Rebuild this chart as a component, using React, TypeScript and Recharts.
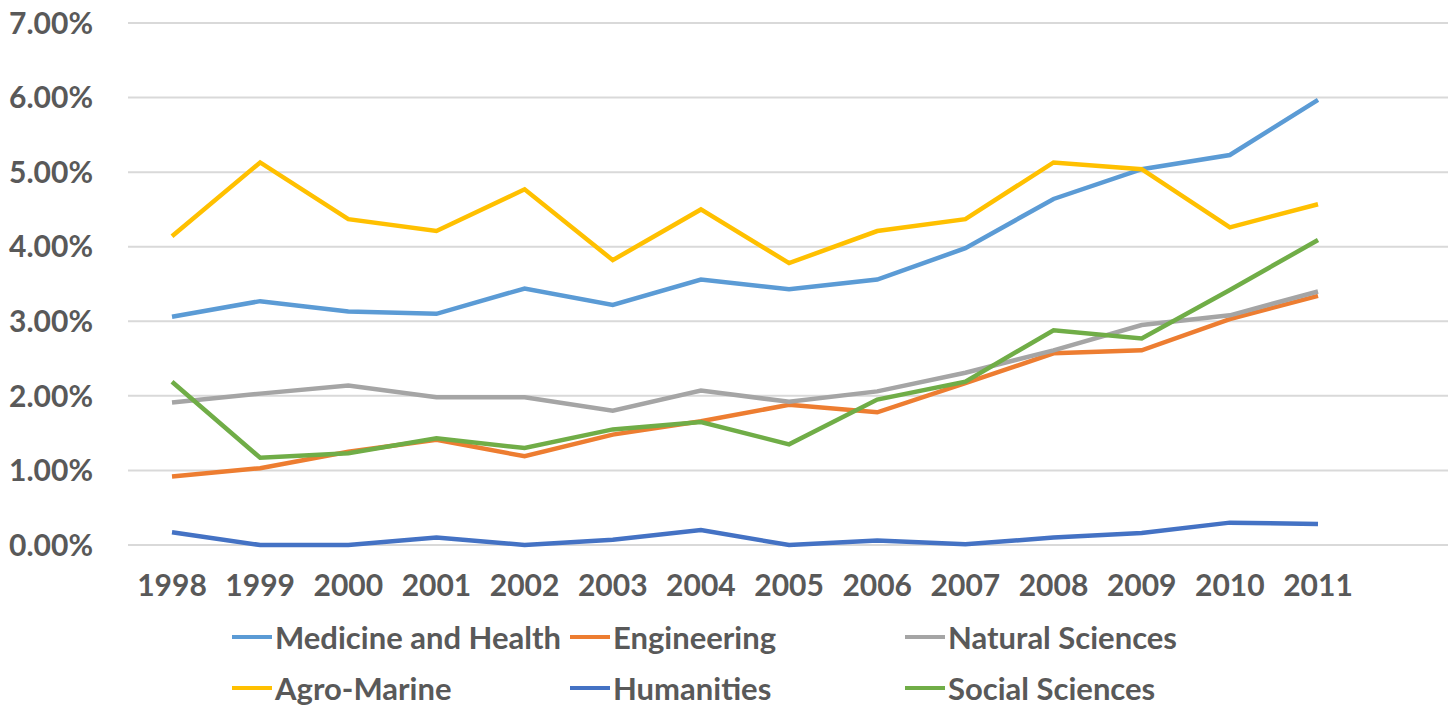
import React from 'react';
import { LineChart, Line, XAxis, YAxis, CartesianGrid } from 'recharts';

const years = ['1998', '1999', '2000', '2001', '2002', '2003', '2004', '2005', '2006', '2007', '2008', '2009', '2010', '2011'];

// values in percent
const medicine = [3.06, 3.27, 3.13, 3.10, 3.44, 3.22, 3.56, 3.43, 3.56, 3.98, 4.64, 5.04, 5.23, 5.97];
const engineering = [0.92, 1.03, 1.25, 1.41, 1.19, 1.48, 1.66, 1.88, 1.78, 2.17, 2.57, 2.61, 3.03, 3.34];
const natural = [1.91, 2.03, 2.14, 1.98, 1.98, 1.80, 2.07, 1.92, 2.06, 2.31, 2.61, 2.95, 3.08, 3.40];
const agro = [4.14, 5.13, 4.37, 4.21, 4.77, 3.82, 4.50, 3.78, 4.21, 4.37, 5.13, 5.04, 4.26, 4.57];
const humanities = [0.17, 0, 0, 0.10, 0, 0.07, 0.20, 0, 0.06, 0.01, 0.10, 0.16, 0.30, 0.28];
const social = [2.19, 1.17, 1.23, 1.43, 1.30, 1.55, 1.65, 1.35, 1.95, 2.19, 2.88, 2.77, 3.42, 4.09];

const yTicks = [0, 1, 2, 3, 4, 5, 6, 7];

const series = [
  { key: 'medicine', name: 'Medicine and Health', color: '#5B9BD5', values: medicine },
  { key: 'engineering', name: 'Engineering', color: '#ED7D31', values: engineering },
  { key: 'natural', name: 'Natural Sciences', color: '#A5A5A5', values: natural },
  { key: 'agro', name: 'Agro-Marine', color: '#FFC000', values: agro },
  { key: 'humanities', name: 'Humanities', color: '#4472C4', values: humanities },
  { key: 'social', name: 'Social Sciences', color: '#70AD47', values: social },
];

const data = years.map((year, i) => {
  const row: Record<string, string | number> = { year };
  series.forEach((s) => { row[s.key] = s.values[i]; });
  return row;
});

const font = 'Lato, "Open Sans", sans-serif';
const textColor = '#595959';

// legend grid: 3 columns, 2 rows
const legendCols = [232, 570, 905];
const legendRows = [637, 688];

const App: React.FC = () => {
  if (typeof document !== 'undefined') document.body.style.margin = '0';

  return (
    <div style={{ position: 'relative', width: 1456, height: 706, background: '#fff', fontFamily: font }}>
      <LineChart width={1456} height={706} data={data} margin={{ top: 23, right: 8, left: 0, bottom: 101 }}>
        <CartesianGrid vertical={false} stroke="#D9D9D9" strokeWidth={2} />
        <XAxis
          dataKey="year"
          axisLine={false}
          tickLine={false}
          tickSize={0}
          tickMargin={30}
          height={60}
          interval={0}
          padding={{ left: 44, right: 130 }}
          tick={{ fill: textColor, fontSize: 30, fontWeight: 700, fontFamily: font }}
        />
        <YAxis
          domain={[0, 7]}
          ticks={yTicks}
          width={128}
          axisLine={false}
          tickLine={false}
          tickSize={0}
          tickMargin={35}
          tickFormatter={(v: number) => `${v.toFixed(2)}%`}
          tick={{ fill: textColor, fontSize: 30, fontWeight: 700, fontFamily: font }}
        />
        {series.map((s) => (
          <Line
            key={s.key}
            type="linear"
            dataKey={s.key}
            name={s.name}
            stroke={s.color}
            strokeWidth={4.5}
            dot={false}
            isAnimationActive={false}
          />
        ))}
      </LineChart>
      {series.map((s, i) => (
        <div
          key={s.key}
          style={{
            position: 'absolute',
            left: legendCols[i % 3],
            top: legendRows[Math.floor(i / 3)] - 19,
            height: 38,
            display: 'flex',
            alignItems: 'center',
            whiteSpace: 'nowrap',
          }}
        >
          <span style={{ display: 'inline-block', width: 40, height: 4, background: s.color, marginRight: 3 }} />
          <span style={{ color: textColor, fontSize: 31, fontWeight: 700 }}>{s.name}</span>
        </div>
      ))}
    </div>
  );
};

export default App;
